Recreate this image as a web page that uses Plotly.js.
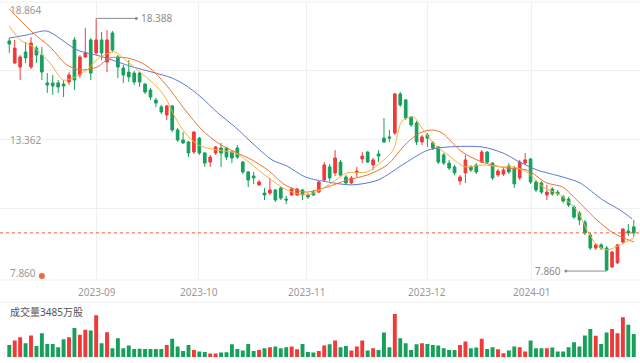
<!DOCTYPE html>
<html><head><meta charset="utf-8">
<script src="https://cdn.plot.ly/plotly-3.0.1.min.js"></script>
<style>html,body{margin:0;padding:0;background:#fff;}#chart{width:640px;height:363px;}</style>
</head><body><div id="chart"></div>
<script>
// ---- data (daily candles, index 0..115) ----
const openP = [17.45,16.53,16.36,16.99,16.36,17.15,16.86,15.70,15.70,15.70,
15.65,15.74,17.49,16.03,16.78,17.49,16.95,17.49,16.57,17.78,
16.78,16.32,16.15,16.11,16.11,15.65,15.40,14.99,14.70,14.36,
14.74,13.74,13.32,13.24,12.82,13.40,12.78,12.40,12.78,12.99,
12.99,12.82,12.99,12.40,11.99,11.82,11.45,11.11,11.11,11.24,
11.32,10.86,11.03,11.03,11.24,11.03,11.15,11.15,11.65,12.20,
11.95,12.40,11.78,11.53,11.95,12.53,12.82,12.28,12.74,13.40,
13.45,13.61,15.24,14.99,14.28,14.03,13.24,13.53,13.20,13.03,
12.70,12.36,12.20,11.61,11.95,12.20,12.28,12.40,12.82,12.36,
11.86,11.90,12.24,12.15,11.74,12.36,12.53,11.57,11.53,11.03,
11.28,11.15,10.95,10.86,10.53,10.28,9.90,9.36,8.82,8.95,
8.82,8.03,8.20,9.07,9.53,9.70];
const highP = [17.57,17.49,16.86,17.40,17.61,17.24,17.20,16.11,16.03,15.82,
15.82,16.15,17.61,16.86,17.99,17.57,18.388,17.82,17.90,17.86,
16.86,16.45,16.65,16.20,16.15,15.70,15.49,15.07,14.78,14.78,
14.78,13.82,13.65,13.28,13.70,13.45,12.82,12.70,13.07,13.20,
13.03,12.90,13.11,12.45,12.03,11.99,11.65,11.32,11.74,11.28,
11.36,10.99,11.36,11.32,11.28,11.11,11.24,11.61,12.40,12.32,
12.90,12.49,11.86,11.82,12.20,12.82,12.86,12.57,12.90,14.24,
13.74,15.28,15.32,15.03,14.32,14.11,13.53,13.61,13.28,13.07,
12.78,12.49,12.28,11.86,12.70,12.28,12.36,12.90,12.86,12.40,
12.11,12.15,12.36,12.24,12.49,12.78,12.57,11.65,11.61,11.45,
11.36,11.24,11.03,10.95,10.61,10.36,9.99,9.45,9.03,9.03,
8.90,8.70,8.99,9.65,9.82,9.99];
const lowP = [16.95,16.49,15.82,16.53,16.28,16.53,15.82,15.28,15.20,15.28,
15.11,15.61,15.40,15.90,16.74,15.82,16.86,16.65,16.15,16.99,
15.90,15.70,15.74,15.61,15.53,15.24,14.99,14.70,14.40,14.15,
13.65,13.24,13.15,12.61,12.74,12.70,12.20,12.20,12.70,12.20,
12.49,12.36,12.53,11.90,11.36,11.49,11.40,10.82,11.03,10.74,
10.82,10.65,10.99,10.99,10.82,10.86,10.99,11.11,11.57,11.61,
11.82,11.78,11.45,11.49,11.78,12.36,12.36,12.07,12.40,13.20,
13.24,13.53,14.70,14.15,13.86,13.11,13.11,13.03,12.90,12.32,
12.28,12.07,11.86,11.45,11.53,11.99,11.90,12.36,12.32,11.65,
11.78,11.82,11.90,11.32,11.65,12.28,11.49,11.15,11.07,10.82,
10.99,10.99,10.70,10.53,10.03,9.78,9.36,8.74,8.74,8.74,
7.86,7.99,8.15,8.99,9.32,9.28];
const closeP = [17.32,17.15,16.78,16.74,17.36,16.86,16.15,15.61,15.57,15.53,
15.57,16.03,15.82,16.78,16.95,16.11,17.49,16.95,17.49,17.07,
16.36,16.03,15.95,15.74,15.74,15.32,15.11,14.86,14.49,14.74,
13.74,13.32,13.20,12.78,13.65,12.78,12.36,12.61,13.03,12.78,
12.61,12.57,12.61,11.99,11.65,11.74,11.57,11.03,11.24,10.82,
10.90,10.82,11.28,11.28,11.03,10.95,11.03,11.57,12.28,11.74,
12.57,11.86,11.53,11.74,12.03,12.65,12.40,12.49,12.65,13.24,
13.40,15.24,14.78,14.24,13.95,13.24,13.45,13.40,12.99,12.40,
12.36,12.15,11.95,11.78,12.49,12.07,11.99,12.82,12.40,11.74,
12.03,12.07,11.99,11.49,12.40,12.49,11.57,11.24,11.15,11.15,
11.07,11.07,10.78,10.61,10.11,9.99,9.45,8.82,8.95,8.82,
7.90,8.65,8.95,9.61,9.45,9.45];
// volume, 万股
const volume = [1845,2505,3000,2100,3255,1695,3600,1995,1995,1500,
2700,3000,4350,3345,4095,4005,6255,2100,3750,1350,
2850,1350,1755,1245,1260,1230,1245,1250,1240,1845,
2745,1605,945,1845,1095,855,795,555,555,705,
750,1950,1245,1005,1995,945,1095,1350,1500,1605,
1350,1500,1605,1200,1995,795,705,945,1755,1950,
2505,1500,1695,1005,1605,2505,1005,1350,1095,3705,
1500,6450,2850,2100,1095,1950,2100,1995,1845,1755,
1350,1095,1095,1845,2355,1350,1455,2745,1245,1500,
1200,600,1005,1605,1500,855,2505,1350,1350,1350,
1455,855,855,1500,2250,1605,3255,4200,3195,1995,
3705,4200,3600,5955,4845,3485];
// moving averages (candle index, price)
const ma5Idx = [0,2.0,4.4,7.5,9.9,11.7,14.3,16.7,19.5,20.9,24.1,27.2,28.7,30.5,32.4,34.8,38.3,41.6,44.3,47.5,51.1,54.8,57.2,59.6,62.2,65.9,68.3,70.7,72.3,74.4,76.0,78.4,80.8,83.9,87.1,90.7,92.8,95.3,98.3,101.4,104.5,106.4,108.2,110.1,112.5,115];
const ma5Val = [18.07,17.49,17.20,16.53,15.82,15.90,16.24,16.78,16.99,16.74,16.15,15.53,15.11,14.28,13.61,13.11,12.90,12.78,12.36,11.78,11.24,11.03,11.24,11.57,11.95,11.99,12.36,12.90,14.10,14.28,13.82,13.11,12.70,12.20,12.28,12.20,12.20,11.99,11.36,11.03,10.40,9.57,8.95,8.74,8.95,9.24];
const ma10Idx = [0,2.0,4.4,7.5,10.6,13.0,16.2,18.5,21.7,24.4,26.3,29.2,32.4,35.5,38.4,41.6,44.7,47.6,50.8,54.5,58.5,62.2,65.9,69.6,73.2,75.6,77.8,79.7,83.4,87.1,91.7,95.3,99.0,101.9,104.5,108.2,111.2,115];
const ma10Val = [18.78,18.32,17.78,17.20,16.45,16.24,16.36,16.74,16.74,16.53,16.24,15.53,14.57,13.74,13.20,12.82,12.49,12.07,11.45,11.15,11.36,11.65,11.86,12.28,13.20,13.61,13.74,13.61,12.82,12.40,12.15,12.07,11.53,11.36,10.82,9.99,9.45,9.07];
const ma20Idx = [0,3.3,6.9,12.5,16.7,20.0,22.8,26.3,30.0,32.4,35.1,38.4,41.6,44.7,48.4,51.1,54.5,58.7,63.1,67.9,72.9,77.1,80.8,87.1,90.9,94.0,97.2,101.9,105.1,109.3,112.5,114.7];
const ma20Val = [17.57,17.70,17.86,17.07,16.82,16.57,16.36,16.15,15.90,15.61,15.15,14.45,13.86,13.20,12.49,12.24,11.78,11.57,11.45,11.65,12.36,12.90,13.03,13.03,12.78,12.40,12.07,11.78,11.53,10.82,10.40,10.03];
// x-axis month ticks (positions in candle index)
const monthLabels = ['2023-09','2023-10','2023-11','2023-12','2024-01'];
const monthIdx = [16.15,34.9,54.8,77.0,96.2];
// y-axis labels
const yLabelVals = [18.864,13.362,7.860];
const yGridVals = [16.237,13.362,10.446];
// event marker
const eventIdx = [6];
const eventVal = [7.65];

// ---- styling ----
const RED = '#f03a3a', GREEN = '#16a05c';
const H = 363;
const pp = px => 1 - px / H; // pixel row -> paper
const idx = openP.map((_, i) => i);
const volColors = idx.map(i => closeP[i] >= openP[i] ? RED : GREEN);

const iHi = highP.indexOf(Math.max(...highP));
const iLo = lowP.indexOf(Math.min(...lowP));
const hiV = highP[iHi], loV = lowP[iLo];
const lastClose = closeP[closeP.length - 1];
const lastVol = volume[volume.length - 1];

const traces = [
  {type:'candlestick', x: idx, open: openP, high: highP, low: lowP, close: closeP,
   xaxis:'x', yaxis:'y', hoverinfo:'skip', whiskerwidth:0,
   increasing:{line:{color:RED, width:1}, fillcolor:RED},
   decreasing:{line:{color:GREEN, width:1}, fillcolor:GREEN}},
  {type:'scatter', mode:'lines', x: ma20Idx, y: ma20Val, xaxis:'x', yaxis:'y', hoverinfo:'skip',
   line:{color:'#5a78d8', width:1, shape:'spline', smoothing:0.8}},
  {type:'scatter', mode:'lines', x: ma10Idx, y: ma10Val, xaxis:'x', yaxis:'y', hoverinfo:'skip',
   line:{color:'#ef7232', width:1, shape:'spline', smoothing:0.8}},
  {type:'scatter', mode:'lines', x: ma5Idx, y: ma5Val, xaxis:'x', yaxis:'y', hoverinfo:'skip',
   line:{color:'#f5b33c', width:1, shape:'spline', smoothing:0.8}},
  // high / low markers
  {type:'scatter', mode:'lines', x:[iHi, iHi+7.4], y:[hiV, hiV], xaxis:'x', yaxis:'y', hoverinfo:'skip',
   line:{color:'#8c8c8c', width:1}},
  {type:'scatter', mode:'markers', x:[iHi+7.4], y:[hiV], xaxis:'x', yaxis:'y', hoverinfo:'skip',
   marker:{color:'#8c8c8c', size:3}},
  {type:'scatter', mode:'lines', x:[iLo-7.5, iLo], y:[loV, loV], xaxis:'x', yaxis:'y', hoverinfo:'skip',
   line:{color:'#8c8c8c', width:1}},
  {type:'scatter', mode:'markers', x:[iLo-7.5], y:[loV], xaxis:'x', yaxis:'y', hoverinfo:'skip',
   marker:{color:'#8c8c8c', size:3}},
  {type:'scatter', mode:'markers', x: eventIdx, y: eventVal, xaxis:'x', yaxis:'y', hoverinfo:'skip',
   marker:{color:'#f26a3c', size:6}},
  {type:'bar', x: idx, y: volume, xaxis:'x2', yaxis:'y2', hoverinfo:'skip', width:0.72,
   marker:{color: volColors, line:{width:0}}}
];

const xRange = [-1.71, 116.15];
const FONT = '"Noto Sans", "Noto Sans CJK SC", sans-serif';
const annotations = [];
monthLabels.forEach((t, k) => annotations.push({
  x: monthIdx[k], xref:'x', y: pp(292), yref:'paper', text: t, showarrow:false,
  xanchor:'center', yanchor:'middle', font:{family:FONT, size:10, color:'#999999'}}));
const yShift = [-3.5, -0.5, -2];
yLabelVals.forEach((v, k) => annotations.push({
  x: 8/640, xref:'paper', y: v, yref:'y', text: v.toFixed(3), showarrow:false,
  xanchor:'left', yanchor:'middle', yshift: yShift[k], font:{family:FONT, size:10, color:'#999999'}}));
annotations.push({x: iHi+7.9, xref:'x', y: hiV, yref:'y', text: hiV.toFixed(3), showarrow:false,
  xanchor:'left', yanchor:'middle', font:{family:FONT, size:10, color:'#8c8c8c'}});
annotations.push({x: iLo-8.0, xref:'x', y: loV, yref:'y', text: loV.toFixed(3), showarrow:false,
  xanchor:'right', yanchor:'middle', font:{family:FONT, size:10, color:'#8c8c8c'}});
annotations.push({x: 8/640, xref:'paper', y: pp(312), yref:'paper', text: '成交量' + lastVol + '万股',
  showarrow:false, xanchor:'left', yanchor:'middle', font:{family:FONT, size:10, color:'#555555'}});

const shapes = [
  {type:'line', xref:'paper', yref:'paper', x0:0, x1:1, y0:pp(2), y1:pp(2), line:{color:'#f0f0f0', width:1}},
  {type:'line', xref:'paper', yref:'paper', x0:0, x1:1, y0:pp(280), y1:pp(280), line:{color:'#f0f0f0', width:1}},
  {type:'line', xref:'paper', yref:'paper', x0:0, x1:1, y0:pp(302), y1:pp(302), line:{color:'#f0f0f0', width:1}},
  {type:'line', xref:'paper', yref:'y', x0:0, x1:1, y0:lastClose, y1:lastClose,
   line:{color:'#f0602f', width:1, dash:'3px,3px'}}
];

const layout = {
  width:640, height:363, margin:{l:0, r:0, t:0, b:0},
  paper_bgcolor:'#ffffff', plot_bgcolor:'#ffffff', showlegend:false,
  font:{family:FONT},
  boxgap:0.3,
  xaxis:{range:xRange, domain:[0,1], anchor:'y', tickvals: monthIdx, showticklabels:false,
    showgrid:true, gridcolor:'#f0f0f0', gridwidth:1, zeroline:false, showline:false, ticks:'',
    rangeslider:{visible:false}, fixedrange:true},
  yaxis:{range:[7.487, 19.071], domain:[pp(280), pp(2)], tickvals: yGridVals, showticklabels:false,
    showgrid:true, gridcolor:'#f0f0f0', gridwidth:1, zeroline:false, showline:false, ticks:'', fixedrange:true},
  xaxis2:{range:xRange, domain:[0,1], anchor:'y2', showticklabels:false, showgrid:false,
    zeroline:false, showline:false, ticks:'', fixedrange:true},
  yaxis2:{range:[0, 6450], domain:[pp(357.3), pp(314)], showticklabels:false, showgrid:false,
    zeroline:false, showline:false, ticks:'', fixedrange:true},
  annotations, shapes
};

Plotly.newPlot('chart', traces, layout, {displayModeBar:false, staticPlot:true});
</script>
</body></html>
